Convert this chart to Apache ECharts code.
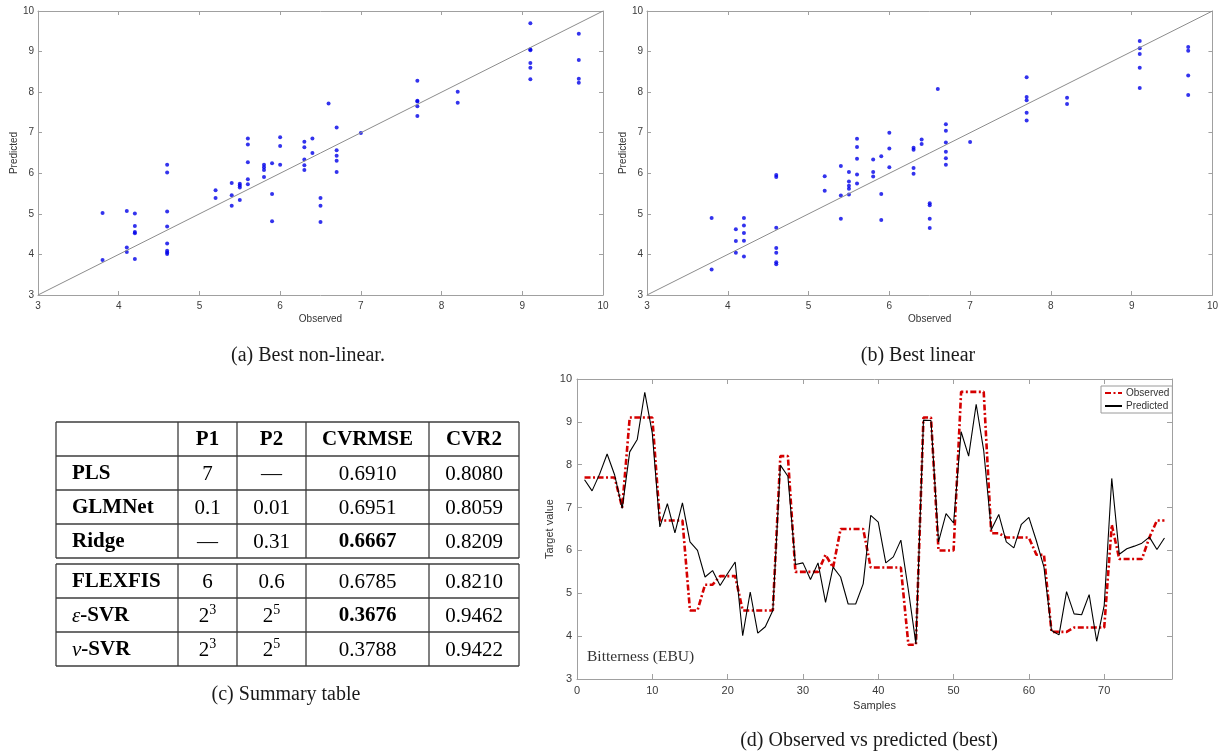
<!DOCTYPE html>
<html>
<head>
<meta charset="utf-8">
<script src="https://cdn.jsdelivr.net/npm/echarts@6/dist/echarts.min.js"></script>
<style>
  html, body { margin: 0; padding: 0; background: #fff; }
  #chart { width: 1221px; height: 754px; }
</style>
</head>
<body>
<div id="chart"></div>
<script>
const chart = echarts.init(document.getElementById("chart"));

// (a) best non-linear: observed / predicted pairs
const nonlinObserved = [
  3.8, 3.8, 4.1, 4.1, 4.1, 4.2, 4.2, 4.2, 4.2, 4.2,
  4.6, 4.6, 4.6, 4.6, 4.6, 4.6, 4.6, 4.6, 5.2, 5.2,
  5.4, 5.4, 5.4, 5.5, 5.5, 5.5, 5.5, 5.6, 5.6, 5.6, 5.6, 5.6,
  5.8, 5.8, 5.8, 5.8, 5.9, 5.9, 5.9, 6.0, 6.0, 6.0,
  6.3, 6.3, 6.3, 6.3, 6.3, 6.4, 6.4, 6.5, 6.5, 6.5, 6.6,
  6.7, 6.7, 6.7, 6.7, 6.7, 7.0, 7.7, 7.7, 7.7, 7.7, 7.7, 8.2, 8.2,
  9.1, 9.1, 9.1, 9.1, 9.1, 9.1, 9.7, 9.7, 9.7, 9.7
];
const nonlinPredicted = [
  5.02, 3.86, 5.07, 4.17, 4.06, 5.01, 4.70, 4.55, 4.52, 3.89,
  6.21, 6.02, 5.06, 4.69, 4.27, 4.09, 4.05, 4.01, 5.58, 5.39,
  5.76, 5.46, 5.20, 5.74, 5.70, 5.65, 5.34, 6.86, 6.71, 6.27, 5.85, 5.73,
  6.21, 6.15, 6.08, 5.91, 6.25, 5.49, 4.82, 6.89, 6.67, 6.21,
  6.78, 6.64, 6.34, 6.20, 6.08, 6.86, 6.50, 5.39, 5.20, 4.80, 7.72,
  7.13, 6.57, 6.43, 6.31, 6.03, 6.99, 8.28, 7.79, 7.77, 7.65, 7.41, 8.01, 7.74,
  9.70, 9.06, 9.03, 8.72, 8.60, 8.32, 9.44, 8.79, 8.33, 8.23
];

// (b) best linear
const linObserved = [
  3.8, 3.8, 4.1, 4.1, 4.1, 4.2, 4.2, 4.2, 4.2, 4.2,
  4.6, 4.6, 4.6, 4.6, 4.6, 4.6, 4.6, 5.2, 5.2,
  5.4, 5.4, 5.4, 5.5, 5.5, 5.5, 5.5, 5.5, 5.6, 5.6, 5.6, 5.6, 5.6,
  5.8, 5.8, 5.8, 5.9, 5.9, 5.9, 6.0, 6.0, 6.0,
  6.3, 6.3, 6.3, 6.3, 6.4, 6.4, 6.5, 6.5, 6.5, 6.5, 6.6,
  6.7, 6.7, 6.7, 6.7, 6.7, 6.7, 7.0, 7.7, 7.7, 7.7, 7.7, 7.7, 8.2, 8.2,
  9.1, 9.1, 9.1, 9.1, 9.1, 9.7, 9.7, 9.7, 9.7
];
const linPredicted = [
  4.90, 3.63, 4.62, 4.33, 4.04, 4.90, 4.71, 4.53, 4.34, 3.95,
  5.96, 5.91, 4.66, 4.16, 4.04, 3.81, 3.76, 5.93, 5.57,
  6.18, 5.45, 4.88, 6.03, 5.80, 5.69, 5.62, 5.48, 6.85, 6.65, 6.36, 5.97, 5.75,
  6.34, 6.03, 5.92, 6.42, 5.49, 4.85, 7.00, 6.61, 6.15,
  6.63, 6.58, 6.13, 5.99, 6.83, 6.72, 5.26, 5.21, 4.88, 4.65, 8.08,
  7.21, 7.05, 6.76, 6.53, 6.37, 6.21, 6.77, 8.37, 7.88, 7.80, 7.49, 7.30, 7.86, 7.71,
  9.26, 9.08, 8.94, 8.60, 8.10, 9.11, 9.02, 8.41, 7.93
];

// identity line end points
const identityRange = [3, 10];

// (d) observed vs predicted over the 78 samples
const sampleObserved = [
  7.7, 7.7, 7.7, 7.7, 7.7, 7.0, 9.1, 9.1, 9.1, 9.1,
  6.7, 6.7, 6.7, 6.7, 4.6, 4.6, 5.2, 5.2, 5.4, 5.4,
  5.4, 4.6, 4.6, 4.6, 4.6, 4.6, 8.2, 8.2, 5.5, 5.5,
  5.5, 5.5, 5.9, 5.6, 6.5, 6.5, 6.5, 6.5, 5.6, 5.6,
  5.6, 5.6, 5.6, 3.8, 3.8, 9.1, 9.1, 6.0, 6.0, 6.0,
  9.7, 9.7, 9.7, 9.7, 6.4, 6.4, 6.3, 6.3, 6.3, 6.3,
  5.9, 5.9, 4.1, 4.1, 4.1, 4.2, 4.2, 4.2, 4.2, 4.2,
  6.6, 5.8, 5.8, 5.8, 5.8, 6.3, 6.7, 6.7
];
const samplePredicted = [
  7.65, 7.39, 7.78, 8.25, 7.76, 6.98, 8.30, 8.59, 9.69, 8.73,
  6.55, 7.09, 6.41, 7.11, 6.20, 6.00, 5.38, 5.53, 5.18, 5.46,
  5.73, 4.01, 5.03, 4.07, 4.22, 4.60, 7.99, 7.73, 5.67, 5.71,
  5.32, 5.71, 4.79, 5.61, 5.38, 4.75, 4.75, 5.22, 6.82, 6.66,
  5.71, 5.85, 6.24, 5.07, 3.82, 9.04, 9.03, 6.20, 6.86, 6.64,
  8.77, 8.20, 9.41, 8.33, 6.48, 6.84, 6.20, 6.06, 6.61, 6.77,
  6.22, 5.61, 4.13, 4.03, 5.04, 4.52, 4.50, 4.97, 3.88, 4.72,
  7.68, 5.91, 6.04, 6.10, 6.17, 6.31, 6.02, 6.29
];

// (c) summary table
const tableHeader = ["", "P1", "P2", "CVRMSE", "CVR2"];
const linearRows = [
  ["PLS", "7", "—", "0.6910", "0.8080"],
  ["GLMNet", "0.1", "0.01", "0.6951", "0.8059"],
  ["Ridge", "—", "0.31", "0.6667", "0.8209"]
];
const nonlinearRows = [
  ["FLEXFIS", "6", "0.6", "0.6785", "0.8210"],
  ["ε-SVR", "2^3", "2^5", "0.3676", "0.9462"],
  ["ν-SVR", "2^3", "2^5", "0.3788", "0.9422"]
];
const boldValues = ["0.6667", "0.3676"];

const SANS = "Liberation Sans";
const SERIF = "Liberation Serif";
const FRAME = "#a0a0a0";
const TICK_TEXT = "#3a3a3a";

function pairs(xs, ys) {
  return xs.map((x, i) => [x, ys[i]]);
}

// four-sided MATLAB-style box: labelled bottom/left axes plus bare top/right mirrors
function xAxes(grid, min, max, interval, name, nameGap, fontSize, tickLen, margin) {
  const base = {
    gridIndex: grid, type: "value", min, max, interval,
    splitLine: { show: false },
    axisLine: { show: true, onZero: false, lineStyle: { color: FRAME, width: 1 } },
    axisTick: { show: true, inside: true, length: tickLen, lineStyle: { color: FRAME } }
  };
  return [
    Object.assign({}, base, {
      position: "bottom", name, nameLocation: "middle", nameGap,
      nameTextStyle: { color: "#333", fontSize, fontFamily: SANS },
      axisLabel: { color: TICK_TEXT, fontSize, fontFamily: SANS, margin,
        formatter: v => (v % interval === 0 ? String(v) : "") }
    }),
    Object.assign({}, base, { position: "top", axisLabel: { show: false } })
  ];
}

function yAxes(grid, min, max, interval, name, nameGap, fontSize, tickLen, margin) {
  const base = {
    gridIndex: grid, type: "value", min, max, interval,
    splitLine: { show: false },
    axisLine: { show: true, onZero: false, lineStyle: { color: FRAME, width: 1 } },
    axisTick: { show: true, inside: true, length: tickLen, lineStyle: { color: FRAME } }
  };
  return [
    Object.assign({}, base, {
      position: "left", name, nameLocation: "middle", nameGap,
      nameTextStyle: { color: "#333", fontSize, fontFamily: SANS },
      axisLabel: { color: TICK_TEXT, fontSize, fontFamily: SANS, margin }
    }),
    Object.assign({}, base, { position: "right", axisLabel: { show: false } })
  ];
}

// ---- table (c) drawn with graphic elements ----
const colEdges = [56, 178, 237, 306, 429, 519];
const ROW_H = 34;
const TABLE_TEXT = "#1a1a1a";
const TABLE_LINE = "#3d3d3d";

function cellText(text, bold) {
  const sup = text.match(/^(\d+)\^(\d+)$/);
  if (sup) return `{r|${sup[1]}}{sup|${sup[2]}}`;
  const greek = text.match(/^([εν])(.*)$/);
  if (greek) return `{gi|${greek[1]}}{b|${greek[2]}}`;
  return `{${bold ? "b" : "r"}|${text}}`;
}

const tableRich = {
  r: { fontFamily: SERIF, fontSize: 21, color: TABLE_TEXT, lineHeight: 26 },
  b: { fontFamily: SERIF, fontSize: 21, fontWeight: "bold", color: TABLE_TEXT, lineHeight: 26 },
  gi: { fontFamily: SERIF, fontSize: 21, fontStyle: "italic", color: TABLE_TEXT, lineHeight: 26 },
  sup: { fontFamily: SERIF, fontSize: 14, color: TABLE_TEXT, verticalAlign: "top", lineHeight: 14 }
};

function tableBlock(top, rows, withHeader) {
  const els = [];
  const bottom = top + rows.length * ROW_H;
  for (let i = 0; i <= rows.length; i++) {
    els.push({ type: "line", silent: true,
      shape: { x1: colEdges[0], y1: top + i * ROW_H, x2: colEdges[colEdges.length - 1], y2: top + i * ROW_H },
      style: { stroke: TABLE_LINE, lineWidth: 1.3 } });
  }
  colEdges.forEach(x => {
    els.push({ type: "line", silent: true,
      shape: { x1: x, y1: top, x2: x, y2: bottom },
      style: { stroke: TABLE_LINE, lineWidth: 1.3 } });
  });
  rows.forEach((row, r) => {
    row.forEach((text, c) => {
      if (!text) return;
      const bold = (withHeader && r === 0) || c === 0 || boldValues.includes(text);
      els.push({ type: "text", silent: true,
        x: c === 0 ? colEdges[0] + 16 : (colEdges[c] + colEdges[c + 1]) / 2,
        y: top + r * ROW_H + ROW_H / 2 + 1,
        style: { text: cellText(text, bold), rich: tableRich,
          align: c === 0 ? "left" : "center", textAlign: c === 0 ? "left" : "center",
          verticalAlign: "middle", textVerticalAlign: "middle" } });
    });
  });
  return els;
}

function tableGraphics() {
  const firstRows = [tableHeader].concat(linearRows);
  const firstTop = 422;
  const secondTop = firstTop + firstRows.length * ROW_H + 6;
  return tableBlock(firstTop, firstRows, true).concat(tableBlock(secondTop, nonlinearRows, false));
}

function caption(text, x, y) {
  return { type: "text", silent: true, x, y,
    style: { text, fontFamily: SERIF, fontSize: 20, fill: "#1a1a1a",
      align: "center", textAlign: "center", verticalAlign: "middle", textVerticalAlign: "middle" } };
}

const xs = [].concat(
  xAxes(0, 3, 10, 1, "Observed", 19, 10, 4, 6),
  xAxes(1, 3, 10, 1, "Observed", 19, 10, 4, 6),
  xAxes(2, 0, 79, 10, "Samples", 21, 11, 5, 6)
);
const ys = [].concat(
  yAxes(0, 3, 10, 1, "Predicted", 17, 10, 4, 4),
  yAxes(1, 3, 10, 1, "Predicted", 17, 10, 4, 4),
  yAxes(2, 3, 10, 1, "Target value", 16, 11, 5, 5)
);

const identityLine = identityRange.map(v => [v, v]);

chart.setOption({
  animation: false,
  backgroundColor: "#fff",
  grid: [
    { left: 38, top: 11, width: 565, height: 284 },
    { left: 647, top: 11, width: 566, height: 284 },
    { left: 577, top: 379, width: 595, height: 300 }
  ],
  xAxis: xs,
  yAxis: ys,
  legend: {
    data: ["Observed", "Predicted"],
    left: 1101, top: 386, orient: "vertical",
    itemWidth: 17, itemHeight: 8, itemGap: 3,
    padding: [2, 3, 2, 3],
    borderColor: "#9a9a9a", borderWidth: 1, borderRadius: 0,
    backgroundColor: "#fff",
    itemStyle: { opacity: 0 },
    textStyle: { fontSize: 10, color: "#333", fontFamily: SANS, padding: [0, 0, 0, -1] }
  },
  series: [
    { type: "line", xAxisIndex: 0, yAxisIndex: 0, data: identityLine, symbol: "none", silent: true,
      lineStyle: { color: "#8c8c8c", width: 1 } },
    { type: "scatter", xAxisIndex: 0, yAxisIndex: 0, data: pairs(nonlinObserved, nonlinPredicted),
      symbol: "circle", symbolSize: 4, itemStyle: { color: "#0000e8" } },
    { type: "line", xAxisIndex: 2, yAxisIndex: 2, data: identityLine, symbol: "none", silent: true,
      lineStyle: { color: "#8c8c8c", width: 1 } },
    { type: "scatter", xAxisIndex: 2, yAxisIndex: 2, data: pairs(linObserved, linPredicted),
      symbol: "circle", symbolSize: 4, itemStyle: { color: "#0000e8" } },
    { name: "Observed", type: "line", xAxisIndex: 4, yAxisIndex: 4,
      data: sampleObserved.map((v, i) => [i + 1, v]), symbol: "none",
      itemStyle: { color: "#d40000" },
      lineStyle: { color: "#d40000", width: 2.6, type: [6, 2.5, 2, 2.5] } },
    { name: "Predicted", type: "line", xAxisIndex: 4, yAxisIndex: 4,
      data: samplePredicted.map((v, i) => [i + 1, v]), symbol: "none",
      itemStyle: { color: "#000" },
      lineStyle: { color: "#000", width: 1.1 } }
  ],
  graphic: [].concat(
    tableGraphics(),
    [
      caption("(a) Best non-linear.", 308, 356),
      caption("(b) Best linear", 918, 356),
      caption("(c) Summary table", 286, 695),
      caption("(d) Observed vs predicted (best)", 869, 741),
      { type: "text", silent: true, x: 587, y: 657,
        style: { text: "Bitterness (EBU)", fontFamily: SERIF, fontSize: 15.5, fill: "#333",
          align: "left", textAlign: "left", verticalAlign: "middle", textVerticalAlign: "middle" } }
    ]
  )
});
</script>
</body>
</html>
